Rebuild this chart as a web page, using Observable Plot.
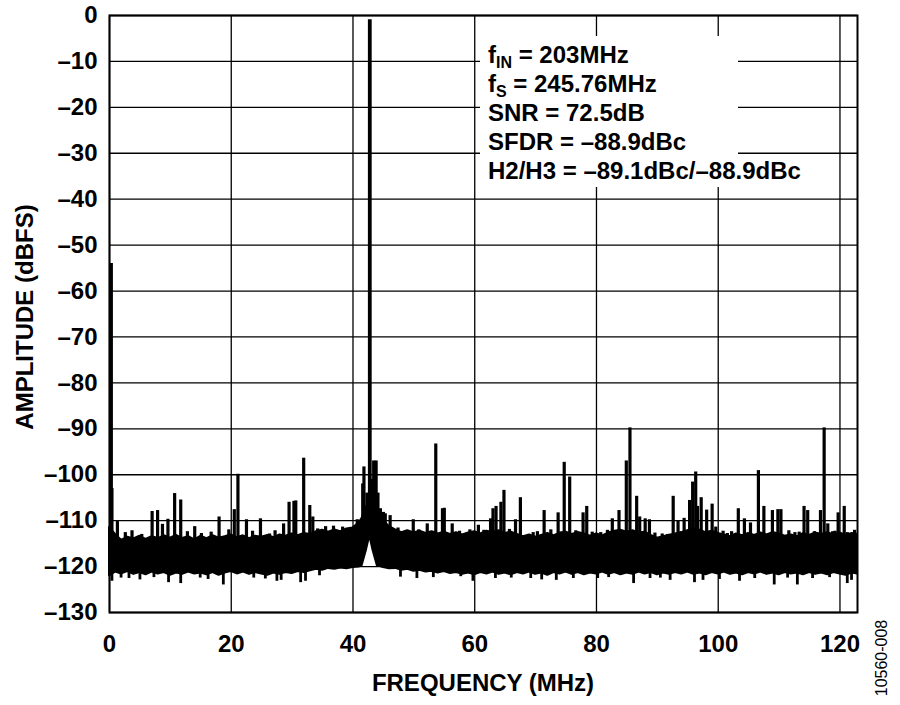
<!DOCTYPE html>
<html>
<head>
<meta charset="utf-8">
<script src="https://cdn.jsdelivr.net/npm/d3@7"></script>
<script src="https://cdn.jsdelivr.net/npm/@observablehq/plot@0.6"></script>
<style>
  body { margin: 0; background: #fff; }
  #chart svg { display: block; }
</style>
</head>
<body>
<div id="chart"></div>
<script>
// ---------- data ----------
const xTicks = [0, 20, 40, 60, 80, 100, 120];
const yTicks = [-130, -120, -110, -100, -90, -80, -70, -60, -50, -40, -30, -20, -10, 0];
const xLabel = "FREQUENCY (MHz)";
const yLabel = "AMPLITUDE (dBFS)";
const figureId = "10560-008";

// noise floor band (MHz, upper edge dBFS, lower edge dBFS)
const bandFreq = [
  0, 1, 2, 3, 4, 5, 6, 7, 8, 9, 10, 11, 12, 13, 14, 15, 16, 17, 18, 19, 20,
  21, 22, 23, 24, 25, 26, 27, 28, 29, 30, 31, 32, 33, 34, 35, 36, 37, 38, 39, 40, 41,
  41.5, 42.2, 42.76, 43.3, 44,
  45, 46, 47, 48, 49, 50, 51, 52, 53, 54, 55, 56, 57, 58, 59, 60, 61, 62, 63, 64,
  65, 66, 67, 68, 69, 70, 71, 72, 73, 74, 75, 76, 77, 78, 79, 80, 81, 82, 83, 84,
  85, 86, 87, 88, 89, 90, 91, 92, 93, 94, 95, 96, 97, 98, 99, 100, 101, 102, 103, 104,
  105, 106, 107, 108, 109, 110, 111, 112, 113, 114, 115, 116, 117, 118, 119, 120, 121, 122, 122.88
];
const bandTop = [
  -111.5, -113, -114.3, -113.6, -114, -113.4, -114.1, -113.5, -113.9, -113.3, -113.8,
  -113.2, -113.9, -113.5, -114.2, -113.4, -113.9, -113.3, -113.8, -113.5, -113.1,
  -113.7, -113.3, -113.9, -113.4, -113.6, -113.2, -113.7, -113.1, -113.4, -112.9,
  -113.3, -112.8, -113, -112.4, -112.1, -112.5, -112, -112.4, -111.8, -111.6, -110.5,
  -109.5, -107, -106, -106, -108.5,
  -110, -111.3, -112, -112.6, -112.2, -112.7, -112.3, -112.8, -112.4, -112.9,
  -112.5, -113, -112.6, -113.1, -112.7, -112.4, -112.9, -112.3, -112.6, -112.2,
  -112.8, -112.5, -113, -113.5, -113.1, -113.6, -113.2, -112.8, -113.3, -112.7,
  -112.5, -113, -112.6, -112.9, -113.4, -112.9, -113.3, -112.7, -112.3, -112.1,
  -112.5, -112.2, -112.7, -112.5, -113.2, -113.8, -113.5, -113.2, -112.9, -112.6,
  -112.2, -111.8, -112.1, -112.6, -112.3, -112.8, -113.1, -113.5, -112.9, -113.3,
  -112.8, -113.2, -112.7, -113.1, -112.6, -112.9, -113.4, -113.1, -113.5, -112.8,
  -113.2, -112.7, -113, -112.6, -113.1, -112.7, -113.2, -112.8, -113
];
const bandBottom = [
  -122, -121.2, -121.6, -121.1, -121.7, -121.3, -121.8, -121.2, -121.6, -121.3, -121.9,
  -121.4, -121.7, -121.2, -121.6, -121.4, -121.8, -121.3, -121.9, -121.4, -121.1,
  -121.6, -121.2, -121.7, -121.3, -121.6, -121.9, -121.4, -121.7, -121.3, -121.5,
  -121.1, -121.3, -120.9, -120.6, -120.8, -120.4, -120.6, -120.3, -120.5, -120.2, -120.1,
  -119.8, -116.5, -113.3, -116.5, -119.8,
  -120.2, -120.5, -120.4, -120.8, -120.6, -121, -120.8, -121.2, -121, -121.4,
  -121.1, -121.5, -121.3, -121.7, -121.4, -121.8, -121.3, -121.6, -121.2, -121.7,
  -121.4, -121.8, -121.3, -121.6, -121.2, -121.7, -121.4, -121.9, -121.3, -121.6,
  -121.2, -121.7, -121.3, -121.8, -121.4, -121.6, -121.2, -121.7, -121.3, -121.8,
  -121.4, -121.7, -121.2, -121.6, -121.3, -121.8, -121.4, -121.7, -121.3, -121.6,
  -121.2, -121.7, -121.4, -121.8, -121.3, -121.6, -121.2, -121.7, -121.4, -121.8,
  -121.3, -121.6, -121.2, -121.7, -121.4, -121.8, -121.3, -121.6, -121.4, -121.8,
  -121.3, -121.7, -121.4, -121.8, -121.3, -121.6, -121.9, -121.4, -121.6
];

// spurs rising above the floor (MHz, peak dBFS)
const spurFreq = [
  0.3, 0.4, 1.3, 3.7, 7.0, 7.9, 8.7, 9.6, 10.7, 11.7, 14.0, 18.0, 19.6, 20.5, 21.1,
  22.5, 24.8, 28.6, 29.5, 30.3, 30.6, 31.9, 32.9, 33.4, 35.5, 40.7, 41.6, 41.8, 42.3,
  43.2, 43.4, 43.8, 44.1, 44.5, 45.0, 45.3, 46.1, 49.9, 52.2, 53.6, 54.7, 55.0, 56.3,
  59.2, 60.6, 62.6, 63.0, 63.5, 64.3, 64.8, 66.7, 67.5, 71.4, 72.5, 73.7, 74.7, 75.6,
  77.8, 78.4, 82.6, 83.7, 84.9, 85.5, 86.6, 87.1, 88.0, 88.7, 92.6, 93.4, 94.4, 95.3,
  95.8, 96.3, 96.6, 97.2, 98.1, 99.0, 99.6, 100.8, 101.5, 103.3, 104.3, 105.3, 106.6,
  107.5, 108.9, 109.8, 110.3, 112.6, 114.1, 114.7, 115.8, 116.8, 117.4, 118.0, 118.8,
  119.7, 120.7, 121.2,
  2.6, 5.3, 12.8, 15.1, 16.7, 23.5, 26.3, 27.2, 34.2, 36.8, 38.3, 47.4, 50.8, 57.5,
  61.5, 65.7, 69.6, 70.3, 76.6, 79.3, 80.7, 81.8, 89.6, 90.8, 91.7, 102.2, 111.6,
  113.3, 119.2, 122.4
];
const spurPeak = [
  -54, -103, -110.2, -112.2, -108, -107.8, -110.8, -109.7, -104.1, -105.5, -111.3, -109.2, -112, -107.6, -99.9,
  -109.8, -109.6, -110.7, -106, -105.8, -105.7, -96.4, -106.7, -109.2, -111.3, -109.8, -102, -98.3, -104,
  -101, -97, -97, -104, -107.4, -108.2, -108.5, -108.9, -109.8, -110.7, -93.3, -107.4, -107.3, -110.7,
  -112, -111, -109.6, -107.4, -106.9, -106, -103.4, -109.8, -105, -107.8, -112, -108.3, -97.3, -100.5,
  -108.3, -106.9, -109.6, -107.8, -97, -89.8, -104.7, -109.2, -109.6, -109.8, -104.7, -110, -109.5, -105.6,
  -101.6, -99.4, -106.9, -105, -107.7, -106.4, -111.4, -112.3, -112.8, -107.4, -109.6, -110.5, -99.1,
  -106.9, -107.8, -107.6, -107.6, -112.6, -106.9, -107.8, -112.4, -107.8, -89.8, -110.7, -112.4,
  -108.3, -106.9, -112.6,
  -112.6, -113, -112.4, -112.8, -112.5, -112.3, -112.9, -112.2, -111.8, -111.2, -111.4, -111.6, -112, -112.3,
  -112.1, -111.9, -112.6, -112.4, -112.2, -112.5, -112.6, -112.1, -112.7, -112.9, -113, -112.4, -112.2,
  -112.5, -112.3, -112.1
];

// dips below the floor (MHz, lowest dBFS)
const dipFreq = [
  0.4, 1.9, 3.2, 5.0, 7.3, 9.7, 11.7, 14.9, 16.2, 18.7, 23.7, 25.6, 27.5, 28.2, 31.4, 32.2,
  34.5, 47.8, 50.5, 53.2, 57.7, 59.7, 63.4, 66.0, 69.2, 71.0, 73.4, 76.2, 80.2, 82.0, 86.1,
  88.8, 90.5, 92.1, 96.1, 97.5, 100.2, 103.5, 106.0, 109.2, 111.4, 113.0, 115.5, 118.3, 121.2, 121.9
];
const dipLow = [
  -123.2, -122.5, -122.6, -122.9, -122.4, -123.5, -123.7, -122.5, -122.8, -124, -122.5, -122.7, -123.2, -123, -123.5, -123.2,
  -122, -122.3, -122.6, -122.4, -122.2, -123.2, -122.6, -122.5, -122.6, -122.9, -123, -122.6, -122.6, -122.4, -123.7,
  -122.6, -122.5, -123, -123.5, -123, -122.8, -123.2, -122.6, -124, -122.5, -124, -122.6, -122.4, -123.7, -123
];

// fundamental (203 MHz aliased into the first Nyquist zone)
const carrierFreq = [42.76];
const carrierPeak = [-0.9];

const notes = [
  ["f", "IN", " = 203MHz"],
  ["f", "S", " = 245.76MHz"],
  ["SNR = 72.5dB", "", ""],
  ["SFDR = \u201388.9dBc", "", ""],
  ["H2/H3 = \u201389.1dBc/\u201388.9dBc", "", ""]
];

// ---------- tables for the library ----------
const band = bandFreq.map((f, i) => ({f, hi: bandTop[i], lo: bandBottom[i]}));
const spurs = spurFreq.map((f, i) => ({f, peak: spurPeak[i], base: -114.5}));
const dips = dipFreq.map((f, i) => ({f, low: dipLow[i], base: -120}));
const carrier = carrierFreq.map((f, i) => ({f, peak: carrierPeak[i], base: -113.3}));

const FONT = "'Liberation Sans', Arial, Helvetica, sans-serif";
const fmtY = d => d < 0 ? "\u2013" + Math.abs(d) : String(d);

const plot = Plot.plot({
  width: 900,
  height: 705,
  marginLeft: 109,
  marginRight: 43,
  marginTop: 15,
  marginBottom: 93,
  style: {fontFamily: FONT, fontSize: "24px", fontWeight: "bold", background: "#fff", color: "#000"},
  x: {domain: [0, 122.88], label: null},
  y: {domain: [-130, 0], label: null},
  marks: [
    Plot.gridX(xTicks, {stroke: "#000", strokeOpacity: 1, strokeWidth: 1.3}),
    Plot.gridY(yTicks, {stroke: "#000", strokeOpacity: 1, strokeWidth: 1.3}),
    Plot.axisX(xTicks, {tickSize: 0, tickPadding: 22, tickFormat: d => String(d), fontSize: 24, fontWeight: "bold", label: null}),
    Plot.axisY(yTicks, {tickSize: 0, tickPadding: 12, tickFormat: fmtY, fontSize: 24, fontWeight: "bold", label: null}),
    Plot.areaY(band, {x: "f", y1: "lo", y2: "hi", fill: "#000", stroke: "#000", strokeWidth: 2, strokeLinejoin: "round"}),
    Plot.ruleX(spurs, {x: "f", y1: "base", y2: "peak", stroke: "#000", strokeWidth: 3.2}),
    Plot.ruleX(dips, {x: "f", y1: "base", y2: "low", stroke: "#000", strokeWidth: 2.8}),
    Plot.ruleX(carrier, {x: "f", y1: "base", y2: "peak", stroke: "#000", strokeWidth: 3.8}),
    Plot.frame({stroke: "#000", strokeWidth: 2})
  ]
});

document.getElementById("chart").appendChild(plot);

// ---------- annotations, axis titles ----------
const svg = d3.select(plot);
const padL = 109, padT = 15, padR = 900 - 43;
const tx = padL + 379;            // annotation text x
const base0 = padT + 48;          // first baseline
const lh = 29;                    // line height

const ann = svg.append("g")
  .attr("font-family", FONT).attr("font-weight", "bold").attr("font-size", 24)
  .attr("text-anchor", "start").attr("fill", "#000");
ann.append("rect").attr("x", tx - 8).attr("y", base0 - 27).attr("width", 258).attr("height", 4 * lh + 35).attr("fill", "#fff");
ann.append("rect").attr("x", tx - 8).attr("y", base0 + 3 * lh + 4).attr("width", 339).attr("height", lh + 4).attr("fill", "#fff");
notes.forEach((n, i) => {
  const t = ann.append("text").attr("x", tx).attr("y", base0 + i * lh).attr("text-anchor", "start");
  t.append("tspan").text(n[0]);
  if (n[1]) {
    t.append("tspan").attr("font-size", 16).attr("dy", 5).text(n[1]);
    t.append("tspan").attr("dy", -5).text(n[2]);
  }
});

svg.append("text")
  .attr("x", (padL + padR) / 2).attr("y", 691)
  .attr("text-anchor", "middle")
  .attr("font-family", FONT).attr("font-weight", "bold").attr("font-size", 24)
  .attr("fill", "#000")
  .text(xLabel);

svg.append("text")
  .attr("transform", "translate(33,317) rotate(-90)")
  .attr("text-anchor", "middle")
  .attr("font-family", FONT).attr("font-weight", "bold").attr("font-size", 24)
  .attr("fill", "#000")
  .text(yLabel);

svg.append("text")
  .attr("transform", "translate(887,658) rotate(-90)")
  .attr("text-anchor", "middle")
  .attr("font-family", FONT).attr("font-weight", "normal").attr("font-size", 16)
  .attr("fill", "#000")
  .text(figureId);
</script>
</body>
</html>
